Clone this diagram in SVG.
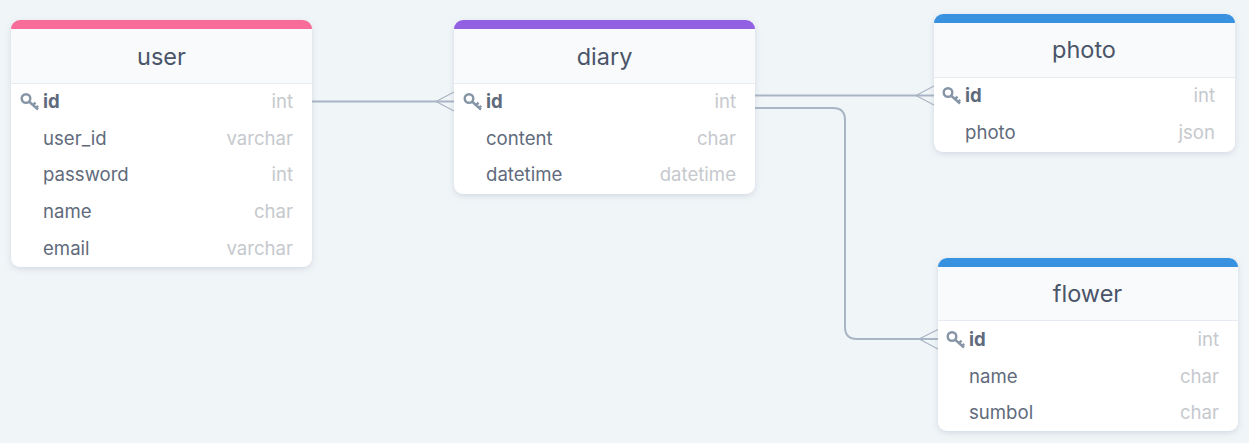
<svg xmlns="http://www.w3.org/2000/svg" width="1249" height="443" viewBox="0 0 1249 443">
<style>
text{font-family:Inter,"Noto Sans","Liberation Sans",sans-serif}
.card{fill:#fff;filter:url(#sh)}
.head{fill:#f8fafc}
.sep{stroke:#e6ebf2;stroke-width:1;fill:none}
.title{font-size:23.500px;fill:#4a5568;text-anchor:middle}
.n{font-size:18.600px;fill:#5f6b7c}
.pk{font-size:18.600px;font-weight:700;fill:#5f6b7c}
.t{font-size:18.600px;fill:#c6c9ce;text-anchor:end}
.c{fill:none;stroke:#a9b5c4;stroke-width:2}
.f{fill:none;stroke:#a9b5c4;stroke-width:1.2}
.k{fill:none;stroke:#8595a6;stroke-width:2.400}
</style>
<defs>
<filter id="sh" x="-10%" y="-10%" width="120%" height="125%"><feDropShadow dx="0" dy="2" stdDeviation="3" flood-color="#8a99ad" flood-opacity=".3"/></filter>
<g id="key"><circle cx="5.500" cy="5.500" r="4.300" class="k"/><path d="M9 9l8.500 7.500M12.500 12.200l2.500-2.500M15.500 15l2.200-2.200" class="k"/></g>
</defs>
<rect width="1249" height="443" fill="#f0f5f8"/>
<g id="connectors">
<path class="c" d="M312 101.500H454"/><path class="f" d="M436 101.500L454 92M436 101.500L454 111"/>
<path class="c" d="M755 95.500H934"/><path class="f" d="M916 95.500L934 86M916 95.500L934 105"/>
<path class="c" d="M755 108H833Q845 108 845 120V327Q845 339 857 339H938"/><path class="f" d="M919 339L938 329.500M919 339L938 349"/>
</g>
<g id="user">
<rect class="card" x="11" y="20" width="301" height="247" rx="9"/>
<path class="head" d="M11 28H312V83H11Z"/>
<path d="M11 29A9 9 0 0 1 20 20H303A9 9 0 0 1 312 29Z" fill="#f76c98"/>
<path class="sep" d="M11 83.500H312"/>
<text class="title" x="161.500" y="65">user</text>
<use href="#key" x="20.500" y="93"/>
<text class="pk" x="43" y="108">id</text><text class="t" x="293" y="108">int</text>
<text class="n" x="43" y="145">user_id</text><text class="t" x="293" y="145">varchar</text>
<text class="n" x="43" y="181">password</text><text class="t" x="293" y="181">int</text>
<text class="n" x="43" y="218">name</text><text class="t" x="293" y="218">char</text>
<text class="n" x="43" y="255">email</text><text class="t" x="293" y="255">varchar</text>
</g>
<g id="diary">
<rect class="card" x="454" y="20" width="301" height="174" rx="9"/>
<path class="head" d="M454 28H755V83H454Z"/>
<path d="M454 29A9 9 0 0 1 463 20H746A9 9 0 0 1 755 29Z" fill="#9160e3"/>
<path class="sep" d="M454 83.500H755"/>
<text class="title" x="604.500" y="65">diary</text>
<use href="#key" x="463.500" y="93"/>
<text class="pk" x="486" y="108">id</text><text class="t" x="736" y="108">int</text>
<text class="n" x="486" y="145">content</text><text class="t" x="736" y="145">char</text>
<text class="n" x="486" y="181">datetime</text><text class="t" x="736" y="181">datetime</text>
</g>
<g id="photo">
<rect class="card" x="934" y="14" width="301" height="138" rx="9"/>
<path class="head" d="M934 22H1235V77H934Z"/>
<path d="M934 23A9 9 0 0 1 943 14H1226A9 9 0 0 1 1235 23Z" fill="#3892e0"/>
<path class="sep" d="M934 77.500H1235"/>
<text class="title" x="1084" y="58">photo</text>
<use href="#key" x="942.500" y="87"/>
<text class="pk" x="965" y="102">id</text><text class="t" x="1215" y="102">int</text>
<text class="n" x="965" y="139">photo</text><text class="t" x="1215" y="139">json</text>
</g>
<g id="flower">
<rect class="card" x="938" y="258" width="300" height="173" rx="9"/>
<path class="head" d="M938 266H1238V320H938Z"/>
<path d="M938 267A9 9 0 0 1 947 258H1229A9 9 0 0 1 1238 267Z" fill="#3892e0"/>
<path class="sep" d="M938 320.500H1238"/>
<text class="title" x="1087.500" y="302">flower</text>
<use href="#key" x="946.500" y="331"/>
<text class="pk" x="969" y="346">id</text><text class="t" x="1219" y="346">int</text>
<text class="n" x="969" y="383">name</text><text class="t" x="1219" y="383">char</text>
<text class="n" x="969" y="419">sumbol</text><text class="t" x="1219" y="419">char</text>
</g>
</svg>
